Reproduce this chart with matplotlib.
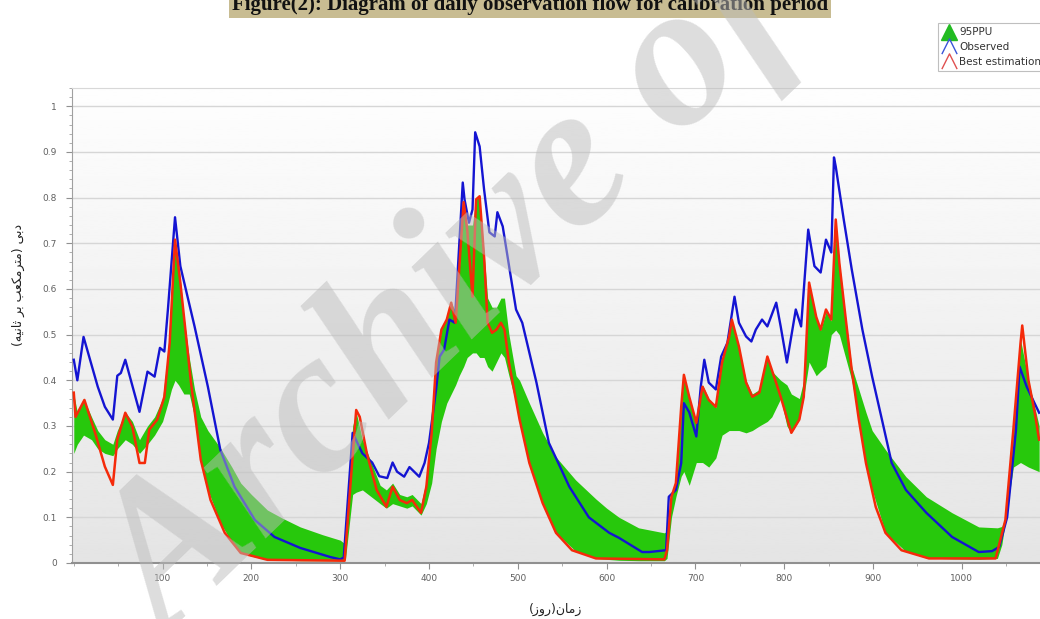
import numpy as np
import matplotlib
matplotlib.use('Agg')
import matplotlib.pyplot as plt
from matplotlib.lines import Line2D
from matplotlib.path import Path
from matplotlib.ticker import MultipleLocator

# === 数据 ===
obs_days = [0, 4, 11, 27, 35, 44, 49, 53, 58, 74,
            83, 91, 97, 102, 106, 114, 120, 136, 151, 165,
            181, 204, 226, 255, 289, 300, 304, 314, 325, 336,
            344, 353, 359, 364, 372, 378, 389, 395, 400, 408,
            412, 417, 423, 429, 432, 438, 440, 445, 449, 452,
            457, 462, 468, 474, 477, 483, 498, 505, 521, 535,
            558, 580, 603, 614, 640, 648, 667, 670, 678, 684,
            687, 693, 701, 706, 710, 715, 723, 729, 736, 744,
            749, 757, 763, 768, 775, 781, 791, 796, 803, 813,
            819, 827, 834, 841, 847, 853, 856, 858, 867, 876,
            888, 899, 910, 921, 937, 960, 989, 1019, 1034, 1042,
            1051, 1061, 1065, 1073, 1087]
obs_vals = [0.445, 0.40, 0.495, 0.386, 0.342, 0.314, 0.41, 0.416, 0.445, 0.331,
            0.419, 0.408, 0.471, 0.463, 0.555, 0.757, 0.65, 0.518, 0.386, 0.248,
            0.167, 0.094, 0.057, 0.033, 0.013, 0.008, 0.012, 0.285, 0.24, 0.22,
            0.19, 0.186, 0.22, 0.20, 0.189, 0.21, 0.189, 0.219, 0.263, 0.38,
            0.452, 0.467, 0.533, 0.526, 0.627, 0.833, 0.796, 0.745, 0.774, 0.943,
            0.912, 0.818, 0.724, 0.715, 0.768, 0.737, 0.555, 0.526, 0.395, 0.263,
            0.167, 0.10, 0.066, 0.055, 0.024, 0.024, 0.028, 0.145, 0.16, 0.219,
            0.35, 0.33, 0.277, 0.386, 0.445, 0.395, 0.38, 0.452, 0.482, 0.583,
            0.526, 0.496, 0.485, 0.511, 0.533, 0.518, 0.57, 0.518, 0.439, 0.555,
            0.518, 0.73, 0.65, 0.636, 0.708, 0.68, 0.888, 0.868, 0.752, 0.643,
            0.511, 0.408, 0.314, 0.219, 0.16, 0.11, 0.057, 0.024, 0.026, 0.035,
            0.10, 0.292, 0.43, 0.386, 0.329]

best_days = [0, 2, 12, 24, 35, 44, 49, 58, 66, 74,
             80, 85, 94, 102, 108, 114, 120, 132, 143, 154,
             170, 188, 218, 305, 318, 322, 330, 341, 352, 359,
             367, 375, 381, 391, 397, 403, 408, 414, 420, 425,
             430, 434, 439, 443, 449, 453, 457, 462, 466, 471,
             476, 481, 485, 490, 502, 513, 528, 543, 561, 588,
             665, 668, 673, 678, 684, 687, 693, 701, 708, 715,
             723, 730, 738, 741, 749, 757, 764, 772, 781, 786,
             796, 808, 817, 822, 828, 836, 841, 847, 853, 858,
             862, 869, 876, 884, 892, 903, 914, 932, 963, 1038,
             1049, 1058, 1066, 1068, 1075, 1082, 1087]
best_vals = [0.373, 0.32, 0.357, 0.285, 0.211, 0.171, 0.27, 0.329, 0.298, 0.219,
             0.219, 0.292, 0.314, 0.364, 0.482, 0.708, 0.614, 0.395, 0.226, 0.138,
             0.066, 0.022, 0.007, 0.005, 0.335, 0.32, 0.24, 0.16, 0.123, 0.167,
             0.138, 0.131, 0.138, 0.11, 0.167, 0.285, 0.439, 0.511, 0.533, 0.57,
             0.526, 0.643, 0.79, 0.73, 0.583, 0.796, 0.803, 0.671, 0.526, 0.504,
             0.511, 0.526, 0.511, 0.439, 0.314, 0.219, 0.131, 0.066, 0.028, 0.01,
             0.008, 0.028, 0.145, 0.175, 0.342, 0.412, 0.364, 0.307, 0.386, 0.357,
             0.342, 0.439, 0.496, 0.533, 0.474, 0.395, 0.364, 0.373, 0.452, 0.423,
             0.364, 0.285, 0.314, 0.364, 0.614, 0.539, 0.511, 0.555, 0.533, 0.752,
             0.658, 0.539, 0.423, 0.314, 0.219, 0.123, 0.066, 0.028, 0.01, 0.01,
             0.094, 0.292, 0.48, 0.52, 0.40, 0.33, 0.27]

# 95PPU 上下界
band_days = [0, 4, 11, 20, 27, 35, 44, 49, 58, 66,
             74, 83, 91, 100, 106, 110, 114, 118, 124, 130,
             136, 143, 151, 165, 178, 188, 200, 218, 235, 255,
             280, 300, 304, 306, 314, 318, 325, 335, 345, 352,
             359, 367, 375, 381, 391, 397, 403, 408, 414, 420,
             425, 430, 434, 439, 443, 449, 453, 457, 462, 466,
             471, 476, 481, 485, 490, 498, 502, 513, 528, 543,
             565, 588, 600, 614, 636, 665, 668, 673, 678, 684,
             687, 693, 701, 708, 715, 723, 730, 738, 741, 749,
             757, 764, 772, 781, 786, 796, 803, 808, 817, 822,
             828, 836, 841, 847, 853, 858, 862, 869, 876, 884,
             892, 899, 914, 937, 960, 989, 1019, 1040, 1045, 1049,
             1058, 1066, 1075, 1087]
band_low = [0.24, 0.26, 0.28, 0.27, 0.25, 0.24, 0.235, 0.25, 0.27, 0.26,
            0.24, 0.26, 0.28, 0.31, 0.35, 0.38, 0.40, 0.39, 0.37, 0.37,
            0.32, 0.226, 0.16, 0.088, 0.045, 0.022, 0.015, 0.007, 0.006, 0.005,
            0.005, 0.005, 0.005, 0.01, 0.15, 0.155, 0.16, 0.145, 0.13, 0.12,
            0.13, 0.125, 0.12, 0.125, 0.105, 0.13, 0.175, 0.25, 0.31, 0.35,
            0.37, 0.39, 0.41, 0.43, 0.45, 0.46, 0.46, 0.45, 0.45, 0.43,
            0.42, 0.44, 0.46, 0.45, 0.41, 0.35, 0.314, 0.219, 0.131, 0.066,
            0.026, 0.01, 0.008, 0.006, 0.005, 0.005, 0.01, 0.10, 0.145, 0.19,
            0.20, 0.17, 0.22, 0.22, 0.21, 0.23, 0.28, 0.29, 0.29, 0.29,
            0.285, 0.29, 0.30, 0.31, 0.32, 0.36, 0.30, 0.285, 0.314, 0.364,
            0.44, 0.41, 0.42, 0.43, 0.50, 0.51, 0.50, 0.45, 0.40, 0.314,
            0.219, 0.16, 0.066, 0.025, 0.011, 0.009, 0.008, 0.01, 0.04, 0.09,
            0.21, 0.22, 0.21, 0.20]
band_high = [0.37, 0.33, 0.36, 0.32, 0.29, 0.27, 0.26, 0.29, 0.33, 0.31,
             0.27, 0.30, 0.32, 0.36, 0.46, 0.60, 0.70, 0.66, 0.54, 0.45,
             0.38, 0.32, 0.29, 0.252, 0.21, 0.175, 0.15, 0.116, 0.098, 0.079,
             0.062, 0.05, 0.044, 0.03, 0.30, 0.33, 0.27, 0.22, 0.17, 0.16,
             0.175, 0.15, 0.145, 0.15, 0.13, 0.18, 0.29, 0.44, 0.51, 0.54,
             0.57, 0.55, 0.64, 0.79, 0.74, 0.74, 0.80, 0.80, 0.68, 0.58,
             0.56, 0.56, 0.58, 0.58, 0.50, 0.41, 0.40, 0.35, 0.285, 0.232,
             0.182, 0.14, 0.12, 0.10, 0.077, 0.066, 0.07, 0.15, 0.18, 0.34,
             0.41, 0.36, 0.31, 0.39, 0.36, 0.34, 0.44, 0.50, 0.53, 0.47,
             0.40, 0.37, 0.38, 0.45, 0.42, 0.40, 0.39, 0.37, 0.36, 0.40,
             0.61, 0.54, 0.51, 0.55, 0.53, 0.75, 0.66, 0.54, 0.43, 0.38,
             0.33, 0.29, 0.248, 0.189, 0.145, 0.11, 0.079, 0.077, 0.08, 0.10,
             0.29, 0.49, 0.40, 0.30]

x_ticks = [100, 200, 300, 400, 500, 600, 700, 800, 900, 1000]
y_ticks = [0, 0.1, 0.2, 0.3, 0.4, 0.5, 0.6, 0.7, 0.8, 0.9, 1]
y_tick_labels = ['0', '0.1', '0.2', '0.3', '0.4', '0.5', '0.6', '0.7', '0.8', '0.9', '1']
legend_labels = ['95PPU', 'Observed', 'Best estimation']

title = 'Figure(2): Diagram of daily observation flow for calibration period'
# 波斯文标签: 已按显示顺序写成阿拉伯字母表现形式 (matplotlib 不做连写/右到左)
# "دبی (مترمکعب بر ثانیه)"
ylabel = ('(' + '\uFEEA\uFBFF\uFEE7\uFE8E\uFE9B' + ' ' + '\uFEAE\uFE91' + ' '
          + '\uFE90\uFECC\uFB91\uFEE3\uFEAE\uFE98\uFEE3' + ') ' + '\uFBFD\uFE91\uFEA9')
# "زمان(روز)"
xlabel = '(' + '\uFEAF\uFEED\uFEAD' + ')' + '\uFEE5\uFE8E\uFEE3\uFEAF'

green = '#27c80c'
blue = '#1414d2'
red = '#f52a0a'

W, H = 1040, 619
fig = plt.figure(figsize=(W / 100, H / 100), dpi=100)
ax = fig.add_axes([72 / W, 56 / H, 968 / W, 475 / H])

# 背景渐变
grad = np.linspace(0.895, 0.995, 256).reshape(-1, 1)
ax.imshow(grad, extent=[-2, 1088, 0, 1.04], origin='lower', aspect='auto',
          cmap='gray', vmin=0, vmax=1, zorder=0)

for yv in y_ticks[1:]:
    ax.axhline(yv, color='#d6d6d6', lw=1.0, zorder=1)

ax.fill_between(band_days, band_low, band_high, color=green, lw=0, zorder=2)
ax.plot(obs_days, obs_vals, color=blue, lw=1.7, zorder=3)
ax.plot(best_days, best_vals, color=red, lw=1.8, zorder=4)

ax.set_xlim(-2, 1088)
ax.set_ylim(0, 1.04)
ax.set_xticks(x_ticks)
ax.set_xticklabels([str(t) for t in x_ticks])
ax.set_yticks(y_ticks)
ax.set_yticklabels(y_tick_labels)
ax.xaxis.set_minor_locator(MultipleLocator(50))
ax.yaxis.set_minor_locator(MultipleLocator(0.02))
ax.tick_params(axis='both', which='major', labelsize=6.5, labelcolor='#606060',
               color='#909090', length=4, width=0.8)
ax.tick_params(axis='y', which='major', pad=7)
ax.tick_params(axis='x', which='major', pad=4)
ax.tick_params(axis='both', which='minor', color='#a0a0a0', length=2.5, width=0.6)
ax.spines['right'].set_visible(False)
ax.spines['top'].set_color('#d8d8d8')
ax.spines['left'].set_color('#a0a0a0')
ax.spines['bottom'].set_color('#909090')
ax.spines['bottom'].set_linewidth(1.5)

fig.text(18 / W, 1 - 285 / H, ylabel, rotation=90, ha='center', va='center',
         fontsize=9, family='DejaVu Sans', color='#222222')
fig.text(556 / W, 1 - 609 / H, xlabel, ha='center', va='center',
         fontsize=9, family='DejaVu Sans', color='#222222')

fig.text(530 / W, 1 - 10 / H, title, ha='center', va='baseline', fontsize=15,
         fontweight='bold', family='Liberation Serif', color='#111111',
         bbox=dict(facecolor='#c8bc92', edgecolor='none', pad=2.2))

# 图例
chevron = Path([(-1, -1), (0, 1), (1, -1)], [Path.MOVETO, Path.LINETO, Path.LINETO])
handles = [
    Line2D([], [], linestyle='none', marker='^', markersize=11,
           markerfacecolor='#22bb22', markeredgecolor='#22bb22'),
    Line2D([], [], linestyle='none', marker=chevron, markersize=11,
           markerfacecolor='none', markeredgecolor='#3a55d8', markeredgewidth=1),
    Line2D([], [], linestyle='none', marker=chevron, markersize=11,
           markerfacecolor='none', markeredgecolor='#e05050', markeredgewidth=1),
]
leg = fig.legend(handles, legend_labels, loc='upper left',
                 bbox_to_anchor=(933 / W, 1 - 18 / H), fontsize=7.5,
                 frameon=True, fancybox=False, handlelength=1.3,
                 handletextpad=0.3, labelspacing=0.45, borderpad=0.4)
leg.get_frame().set_edgecolor('#b0b0b0')
leg.get_frame().set_linewidth(0.8)
for t in leg.get_texts():
    t.set_color('#333333')

# 水印
fig.text(168 / W, -0.04, 'Archive of SID', rotation=44, rotation_mode='anchor',
         ha='left', va='baseline', fontsize=148, family='Liberation Serif',
         style='italic', weight='bold', color='#bcbcbc', alpha=0.5, zorder=10)

fig.savefig('out.png', dpi=100)
